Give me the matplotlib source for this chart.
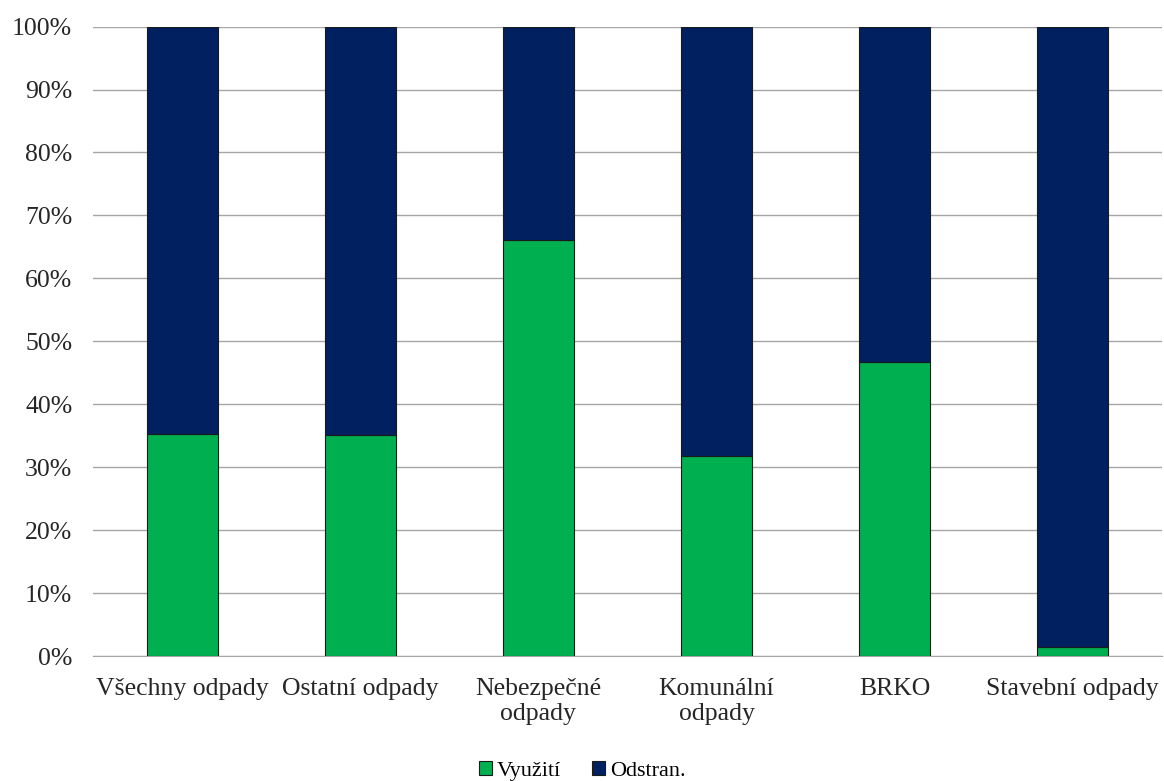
import matplotlib.pyplot as plt
import numpy as np
from matplotlib.ticker import PercentFormatter

plt.rcParams['font.family'] = ['Liberation Serif', 'DejaVu Serif']

kategorie = ['Všechny odpady', 'Ostatní odpady', 'Nebezpečné\nodpady',
             'Komunální\nodpady', 'BRKO', 'Stavební odpady']
vyuziti = [35.3, 35.1, 66.1, 31.7, 46.7, 1.5]
odstran = [100 - v for v in vyuziti]

zelena = '#00B050'
modra = '#002060'

fig = plt.figure(figsize=(11.64, 7.81), dpi=100)
ax = fig.add_axes([0.08, 0.16, 0.918, 0.806])

x = np.arange(len(kategorie))
ax.bar(x, vyuziti, width=0.4, color=zelena, edgecolor='#1a1a1a', linewidth=0.8,
       label='Využití', zorder=3)
ax.bar(x, odstran, width=0.4, bottom=vyuziti, color=modra, edgecolor='#1a1a1a',
       linewidth=0.8, label='Odstran.', zorder=3)

ax.set_xlim(-0.5, len(kategorie) - 0.5)
ax.set_ylim(0, 100)
ax.set_yticks(np.arange(0, 101, 10))
ax.yaxis.set_major_formatter(PercentFormatter(decimals=0))
ax.grid(axis='y', color='#a6a6a6', linewidth=1, zorder=0)
ax.set_axisbelow(True)
for s in ['top', 'right', 'left']:
    ax.spines[s].set_visible(False)
ax.spines['bottom'].set_color('#a6a6a6')
ax.tick_params(axis='both', length=0, labelsize=18.5, colors='#262626')
ax.tick_params(axis='y', pad=15)
ax.tick_params(axis='x', pad=16)
ax.set_xticks(x)
ax.set_xticklabels(kategorie, linespacing=1.15)

fig.legend(loc='lower center', bbox_to_anchor=(0.5, -0.025), ncol=2, frameon=False,
           fontsize=16, handlelength=0.6, handleheight=0.6, handletextpad=0.2,
           columnspacing=1.4)

fig.savefig('out.png', dpi=100)
